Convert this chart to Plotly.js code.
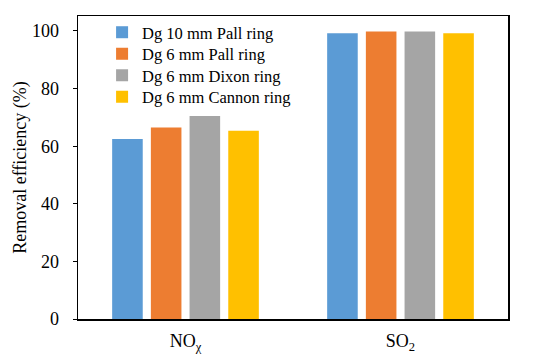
<!DOCTYPE html>
<html>
<head>
<meta charset="utf-8">
<script src="https://cdn.plot.ly/plotly-3.0.1.min.js"></script>
<style>html,body{margin:0;padding:0;background:#fff;}#chart{width:550px;height:361px;}</style>
</head>
<body>
<div id="chart"></div>
<script>
var categories = ["NO<sub>χ</sub>", "SO<sub>2</sub>"];
var seriesNames = ["Dg 10 mm Pall ring", "Dg 6 mm Pall ring", "Dg 6 mm Dixon ring", "Dg 6 mm Cannon ring"];
var pall10 = [62.5, 99.2];
var pall6 = [66.5, 99.8];
var dixon6 = [70.5, 99.8];
var cannon6 = [65.4, 99.2];
var colors = ["#5B9BD5", "#ED7D31", "#A5A5A5", "#FFC000"];
var yTicks = [0, 20, 40, 60, 80, 100];

var fam = "Liberation Serif";
var legendIds = ["legend", "legend2", "legend3", "legend4"];
var legendY = [1.0033, 0.9323, 0.8613, 0.7904];

var allValues = [pall10, pall6, dixon6, cannon6];
var traces = allValues.map(function (vals, i) {
  return {
    type: "bar",
    name: seriesNames[i],
    x: categories,
    y: vals,
    legend: legendIds[i],
    marker: {color: colors[i]}
  };
});

var layout = {
  width: 550, height: 361,
  margin: {l: 78, r: 42, t: 16, b: 42},
  paper_bgcolor: "#fff", plot_bgcolor: "#fff",
  font: {family: fam, color: "#000", size: 18},
  barmode: "group",
  bargap: 0.28,
  bargroupgap: 0.21,
  showlegend: true,
  xaxis: {
    type: "category",
    range: [-0.5, 1.5],
    showline: true, linecolor: "#000", linewidth: 1.5, mirror: true,
    ticks: "", showgrid: false, zeroline: false,
    ticklabelstandoff: 5,
    tickfont: {family: fam, size: 18, color: "#000"}
  },
  yaxis: {
    range: [0, 105.2],
    tickvals: yTicks,
    ticktext: yTicks.map(String),
    showline: true, linecolor: "#000", linewidth: 1.5, mirror: true,
    ticks: "outside", ticklen: 4, tickcolor: "#000",
    ticklabelstandoff: 10,
    showgrid: false, zeroline: false,
    tickfont: {family: fam, size: 18, color: "#000"},
    title: {text: "Removal efficiency (%)", font: {family: fam, size: 18, color: "#000"}, standoff: 0}
  }
};
legendIds.forEach(function (id, i) {
  layout[id] = {
    x: 0.056, y: legendY[i], xanchor: "left", yanchor: "top",
    bgcolor: "rgba(0,0,0,0)", borderwidth: 0,
    font: {family: fam, size: 16.5, color: "#000"},
    itemwidth: 30
  };
});

Plotly.newPlot("chart", traces, layout, {displayModeBar: false, staticPlot: true});
</script>
</body>
</html>
